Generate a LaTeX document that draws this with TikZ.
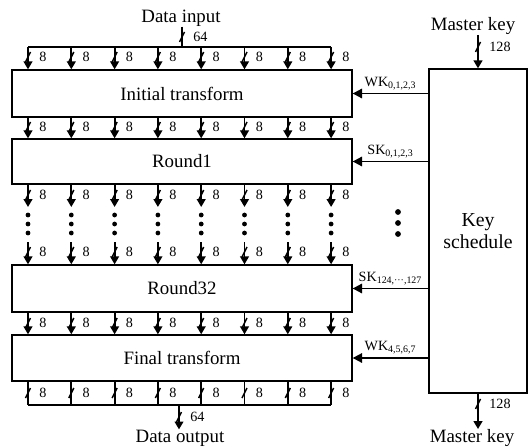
\documentclass[tikz,border=0pt]{standalone}
\usepackage{fontspec}
\setmainfont{Liberation Serif}
\usetikzlibrary{arrows.meta,calc}
\tikzset{
  blk/.style={draw,line width=0.7pt,minimum width=180.2pt,inner sep=0pt,font=\fontsize{10}{12}\selectfont},
  bit/.style={-{Triangle[length=4.2pt,width=4.6pt]},line width=1pt},
  wire/.style={line width=1pt},
  keyarr/.style={-{Triangle[length=5pt,width=5pt]},line width=1pt},
  wd/.style={font=\fontsize{7.5}{8}\selectfont,anchor=west,inner sep=0pt},
  ttl/.style={font=\fontsize{10}{12}\selectfont,inner sep=0pt},
  klab/.style={font=\fontsize{7.5}{8}\selectfont,above,inner sep=1.5pt},
}
% slash mark on a bus, with its width
\newcommand{\slashmark}[3]{%
  \draw[line width=0.8pt,shift={(#1,#2)}] (-2.5,5) -- (2.5,-5);
  \node[wd] at ($(#1,#2)+(11,0)$) {#3};
}

\begin{document}
\begin{tikzpicture}[x=0.53pt,y=-0.53pt]
  \useasboundingbox (0,0) rectangle (529,448);
  % cipher blocks
  \node[blk,minimum height=24.9pt] (init) at (182,93.5) {Initial transform};
  \node[blk,minimum height=23.85pt] (round1) at (182,161.5) {Round1};
  \node[blk,minimum height=24.9pt] (round32) at (182,288.5) {Round32};
  \node[blk,minimum height=24.4pt] (final) at (182,358) {Final transform};
  \node[draw,line width=0.7pt,minimum width=51.9pt,minimum height=171.7pt,align=center,
        font=\fontsize{10.5}{11.5}\selectfont] (keysch) at (478,231) {Key\\schedule};
  % texts
  \node[ttl] (din) at (181,18) {Data input};
  \node[ttl] (dout) at (180,438) {Data output};
  \node[ttl] (mkin) at (473,26) {Master key};
  \node[ttl] (mkout) at (472,438) {Master key};
  \coordinate (tbus) at (182,47);
  \coordinate (bbus) at (179,405);
  \coordinate (d1) at (0,207);
  \coordinate (d2) at (0,242);
  % byte lanes
  \foreach \i in {0,...,7}{
    \pgfmathsetmacro\bx{28+43.3*\i}
    \coordinate (c\i) at (\bx,0);
    \draw[bit] (c\i |- tbus) -- (c\i |- init.north);
    \slashmark{\bx}{57}{8}
    \draw[bit] (c\i |- init.south) -- (c\i |- round1.north);
    \slashmark{\bx}{127}{8}
    \draw[bit] (c\i |- round1.south) -- (c\i |- d1);
    \slashmark{\bx}{195}{8}
    \foreach \y in {215,224,233}
      \fill (\bx,\y) circle (2.4);
    \draw[bit] (c\i |- d2) -- (c\i |- round32.north);
    \slashmark{\bx}{252}{8}
    \draw[bit] (c\i |- round32.south) -- (c\i |- final.north);
    \slashmark{\bx}{323}{8}
    \draw[wire] (c\i |- final.south) -- (c\i |- bbus);
    \slashmark{\bx}{393}{8}
  }
  % input and output buses
  \draw[wire] (c0 |- tbus) -- (c7 |- tbus);
  \draw[wire] (din.south -| tbus) -- (tbus);
  \slashmark{182}{37}{64}
  \draw[wire] (c0 |- bbus) -- (c7 |- bbus);
  \draw[bit] (bbus) -- (bbus |- dout.north);
  \slashmark{179}{417}{64}
  % round keys
  \draw[keyarr] (keysch.west |- init) -- (init.east) node[klab,midway] {WK\textsubscript{0,1,2,3}};
  \draw[keyarr] (keysch.west |- round1) -- (round1.east) node[klab,midway] {SK\textsubscript{0,1,2,3}};
  \draw[keyarr] (keysch.west |- round32) -- (round32.east) node[klab,midway] {SK\textsubscript{124,···,127}};
  \draw[keyarr] (keysch.west |- final) -- (final.east) node[klab,midway] {WK\textsubscript{4,5,6,7}};
  \foreach \y in {212,223,234}
    \fill (398,\y) circle (2.9);
  % master key
  \draw[bit] (mkin.south -| keysch) -- (keysch.north);
  \slashmark{478}{47}{128}
  \draw[bit] (keysch.south) -- (keysch.south |- mkout.north);
  \slashmark{478}{404}{128}
\end{tikzpicture}
\end{document}
